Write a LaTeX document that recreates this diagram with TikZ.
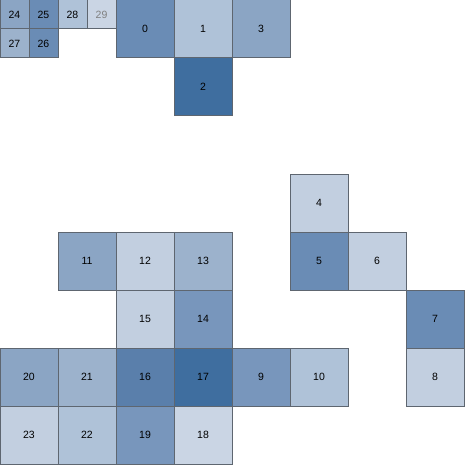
\documentclass[tikz,border=0pt]{standalone}
\usepackage{fontspec}
\setmainfont{Liberation Sans}
\usepackage{tikz}

\definecolor{edge}{HTML}{5E6670}
\definecolor{shA}{HTML}{C2CFE0}
\definecolor{shB}{HTML}{AFC2D8}
\definecolor{shC}{HTML}{9CB2CC}
\definecolor{shD}{HTML}{8BA5C4}
\definecolor{shE}{HTML}{7896BC}
\definecolor{shF}{HTML}{6A8CB5}
\definecolor{shG}{HTML}{5A7FAB}
\definecolor{shH}{HTML}{3F6E9F}
\definecolor{shI}{HTML}{CAD5E4}

\tikzset{
  cell/.style={draw=edge, line width=1pt, minimum size=58pt, inner sep=0pt,
    font=\fontsize{10.5}{12}\selectfont},
  small/.style={cell, minimum size=29pt}
}

\begin{document}
\begin{tikzpicture}[x=58pt,y=-58pt]

\useasboundingbox (0,0) rectangle (465pt,-465pt);

% large cells: label/column/row/shade
\foreach \n/\cx/\cy/\sh in {0/2/0/shF, 1/3/0/shB, 3/4/0/shD, 2/3/1/shH,
    4/5/3/shA, 5/5/4/shF, 6/6/4/shA,
    11/1/4/shD, 12/2/4/shA, 13/3/4/shC,
    15/2/5/shA, 14/3/5/shE, 7/7/5/shF,
    20/0/6/shD, 21/1/6/shC, 16/2/6/shG, 17/3/6/shH, 9/4/6/shE, 10/5/6/shB, 8/7/6/shA,
    23/0/7/shA, 22/1/7/shB, 19/2/7/shE, 18/3/7/shI}
  \node [cell, fill=\sh] (c\n) at (\cx+0.5,\cy+0.5) {\n};

% small cells
\foreach \n/\cx/\cy/\sh in {24/0/0/shD, 25/1/0/shF, 28/2/0/shB, 27/0/1/shC, 26/1/1/shF}
  \node [small, fill=\sh] (c\n) at (\cx/2+0.25,\cy/2+0.25) {\n};
\node [small, fill=shI, text=gray] (c29) at (1.75,0.25) {29};

\end{tikzpicture}
\end{document}
